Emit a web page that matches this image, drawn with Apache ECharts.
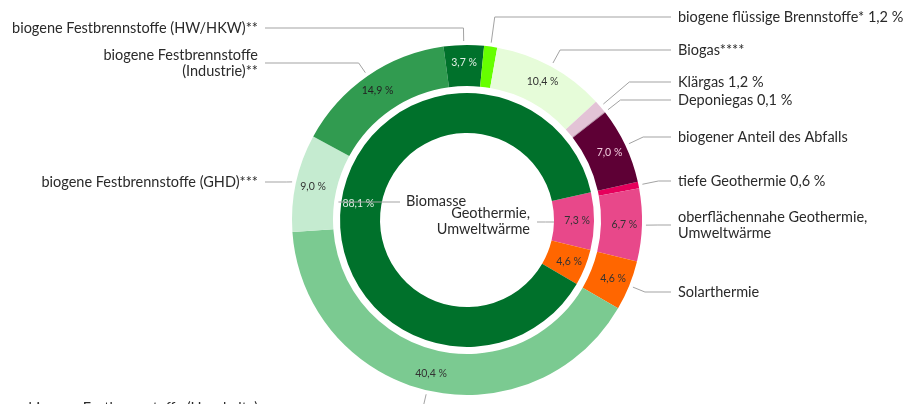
<!DOCTYPE html>
<html>
<head>
<meta charset="utf-8">
<script src="https://cdn.jsdelivr.net/npm/echarts@6/dist/echarts.min.js"></script>
<style>
  html, body { margin: 0; padding: 0; background: #fff; }
  #chart { width: 903px; height: 404px; }
</style>
</head>
<body>
<div id="chart"></div>
<script>
// ==================== DATA ====================
// outer ring, clockwise starting at "tiefe Geothermie"
const outerNames = [
  'tiefe Geothermie',
  'oberflächennahe Geothermie,\nUmweltwärme',
  'Solarthermie',
  'biogene Festbrennstoffe (Haushalte)',
  'biogene Festbrennstoffe (GHD)***',
  'biogene Festbrennstoffe\n(Industrie)**',
  'biogene Festbrennstoffe (HW/HKW)**',
  'biogene flüssige Brennstoffe*',
  'Biogas****',
  'Klärgas',
  'Deponiegas',
  'biogener Anteil des Abfalls'
];
const outerValues = [0.6, 6.7, 4.6, 40.4, 9.0, 14.9, 3.7, 1.2, 10.4, 1.2, 0.1, 7.0];

// inner ring
const innerNames = ['Geothermie,\nUmweltwärme', 'Solarthermie', 'Biomasse'];
const innerValues = [7.3, 4.6, 88.1];

// ==================== STYLE / LAYOUT ====================
const outerColors = ['#e6005c', '#e8488a', '#ff6600', '#7bca91', '#c5ebd0', '#319b50',
                     '#00712b', '#66ff00', '#e6fcd9', '#e3c3d6', '#b890a8', '#5e0035'];
const innerColors = ['#e8488a', '#ff6600', '#00712b'];
const outerPctColors = ['#333', '#333', '#333', '#333', '#333', '#222',
                        '#e2efe6', '#333', '#333', '#333', '#333', '#f0c8dc'];
const innerPctColors = ['#333', '#333', '#e2efe6'];

const FONT = 'Lato';
const CX = 467, CY = 220;
const OUTER_R = [134, 175], INNER_R = [87, 127];
const START_ANGLE = 12.6;

// vertical position of each outer name label
const outerLabelY = [181, 225, 292, 408, 182, 63, 28, 17, 50, 82, 100, 137];
const LEFT_TEXT_X = 258, RIGHT_TEXT_X = 678, LINE_GAP = 7;

const pct = v => v.toFixed(1).replace('.', ',') + ' %';
const isSmall = v => v < 2;

function midAngles(values) {
  const sum = values.reduce((a, b) => a + b, 0);
  let acc = 0;
  return values.map(v => {
    const deg = START_ANGLE - (acc + v / 2) / sum * 360;
    acc += v;
    return deg * Math.PI / 180;
  });
}
const outerMid = midAngles(outerValues);

function outerLabelLayout(p) {
  const i = p.dataIndex;
  const a = outerMid[i];
  const sin = Math.sin(a), cos = Math.cos(a);
  const right = cos >= 0;
  const y = outerLabelY[i];
  const r0 = OUTER_R[1] + 4;
  let t = Math.abs(sin) > 0.05 ? (CY - y) / sin : r0 + 12;
  t = Math.max(r0 + 6, Math.min(t, r0 + 40));
  const textX = right ? RIGHT_TEXT_X : LEFT_TEXT_X;
  return {
    x: textX, y: y,
    align: right ? 'left' : 'right',
    verticalAlign: 'middle',
    labelLinePoints: [
      [CX + r0 * cos, CY - r0 * sin],
      [CX + t * cos, y],
      [right ? textX - LINE_GAP : textX + LINE_GAP, y]
    ]
  };
}

// center labels of the inner ring (Solarthermie has none)
const innerLabelPos = [
  { x: 530, y: 221, align: 'right', anchorR: INNER_R[0] },
  null,
  { x: 406, y: 201, align: 'left', anchorR: INNER_R[1] + 3 }
];

function innerLabelLayout(p) {
  const pos = innerLabelPos[p.dataIndex];
  if (!pos) return {};
  const dy = pos.y - CY;
  const dx = Math.sqrt(pos.anchorR * pos.anchorR - dy * dy);
  const ax = pos.align === 'left' ? CX - dx : CX + dx;
  const ex = pos.align === 'left' ? pos.x - 6 : pos.x + 7;
  return {
    x: pos.x, y: pos.y, align: pos.align, verticalAlign: 'middle',
    labelLinePoints: [[ax, pos.y + 1], [(ax + ex) / 2, pos.y + 1], [ex, pos.y + 1]]
  };
}

const lineStyle = { color: '#a3a3a3', width: 1 };
const nameLabel = { fontFamily: FONT, fontSize: 14.5, color: '#2a2a2a', lineHeight: 16 };
const common = {
  type: 'pie', center: [CX, CY], startAngle: START_ANGLE, clockwise: true,
  avoidLabelOverlap: false, silent: true, animation: false,
  emphasis: { disabled: true }
};

// ==================== CHART ====================
const chart = echarts.init(document.getElementById('chart'));
chart.setOption({
  backgroundColor: '#fff',
  series: [
    {
      ...common, radius: OUTER_R,
      data: outerNames.map((n, i) => ({
        name: n, value: outerValues[i],
        itemStyle: { color: outerColors[i] },
        label: { show: !isSmall(outerValues[i]), color: outerPctColors[i] }
      })),
      label: { position: 'inside', fontFamily: FONT, fontSize: 10.5, formatter: p => pct(p.value) },
      labelLine: { show: false }
    },
    {
      ...common, radius: OUTER_R, z: 3,
      data: outerNames.map((n, i) => ({ name: n, value: outerValues[i] })),
      itemStyle: { color: 'rgba(0,0,0,0)' },
      label: {
        ...nameLabel, position: 'outside',
        formatter: p => isSmall(p.value) ? p.name + ' ' + pct(p.value) : p.name
      },
      labelLine: { show: true, length: 10, length2: 10, lineStyle: lineStyle },
      labelLayout: outerLabelLayout
    },
    {
      ...common, radius: INNER_R,
      data: innerNames.map((n, i) => ({
        name: n, value: innerValues[i],
        itemStyle: { color: innerColors[i] },
        label: { color: innerPctColors[i] }
      })),
      label: { position: 'inside', fontFamily: FONT, fontSize: 10.5, formatter: p => pct(p.value) },
      labelLine: { show: false }
    },
    {
      ...common, radius: INNER_R, z: 3,
      data: innerNames.map((n, i) => ({
        name: n, value: innerValues[i],
        label: { show: innerLabelPos[i] != null },
        labelLine: { show: innerLabelPos[i] != null }
      })),
      itemStyle: { color: 'rgba(0,0,0,0)' },
      label: { ...nameLabel, position: 'outside', formatter: p => p.name },
      labelLine: { show: true, length: 10, length2: 10, lineStyle: lineStyle },
      labelLayout: innerLabelLayout
    }
  ]
});
</script>
</body>
</html>
